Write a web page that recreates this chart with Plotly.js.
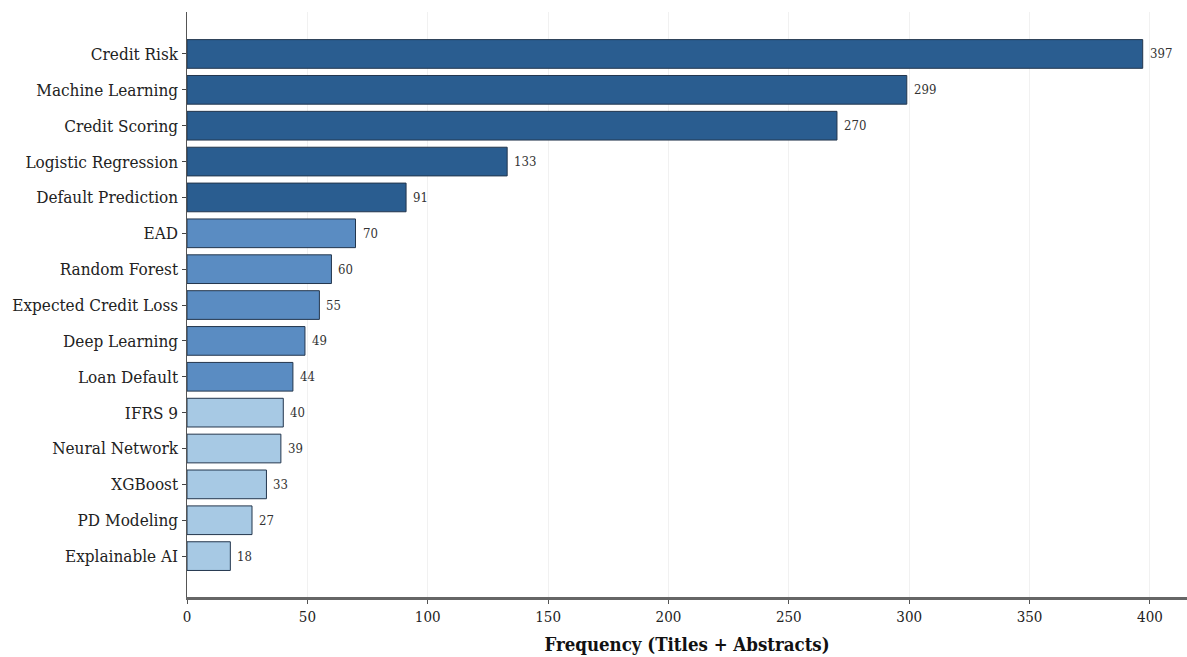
<!DOCTYPE html>
<html>
<head>
<meta charset="utf-8">
<script src="https://cdn.plot.ly/plotly-3.0.1.min.js"></script>
<style>
  html, body { margin: 0; padding: 0; background: #ffffff; }
  #chart { width: 1187px; height: 657px; }
</style>
</head>
<body>
<div id="chart"></div>
<script>
// Keyword frequencies counted across titles and abstracts
const terms = [
  "Credit Risk", "Machine Learning", "Credit Scoring", "Logistic Regression",
  "Default Prediction", "EAD", "Random Forest", "Expected Credit Loss",
  "Deep Learning", "Loan Default", "IFRS 9", "Neural Network",
  "XGBoost", "PD Modeling", "Explainable AI"
];
const counts = [397, 299, 270, 133, 91, 70, 60, 55, 49, 44, 40, 39, 33, 27, 18];

// Three shades: top five, middle five, bottom five
const tierColors = ["#2a5d90", "#5a8cc2", "#a7c9e4"];
const barColors = counts.map((_, i) => tierColors[Math.floor(i / 5)]);

const xTicks = [0, 50, 100, 150, 200, 250, 300, 350, 400];

const serif = "DejaVu Serif Condensed, DejaVu Serif, serif";

const trace = {
  type: "bar",
  orientation: "h",
  x: counts,
  y: terms,
  width: 0.8,
  marker: {
    color: barColors,
    line: { color: "#23364d", width: 1 }
  },
  hoverinfo: "x+y"
};

// Value labels placed just past the end of each bar
const valueLabels = counts.map((v, i) => ({
  x: v,
  y: terms[i],
  xref: "x",
  yref: "y",
  text: String(v),
  showarrow: false,
  xanchor: "left",
  yanchor: "middle",
  xshift: 5,
  font: { family: serif, size: 13, color: "#333333" }
}));

const layout = {
  width: 1187,
  height: 657,
  margin: { l: 187, r: 0, t: 12, b: 60 },
  paper_bgcolor: "#ffffff",
  plot_bgcolor: "#ffffff",
  showlegend: false,
  font: { family: serif, color: "#222222" },
  annotations: valueLabels,
  xaxis: {
    range: [0, 415.4],
    tickvals: xTicks,
    ticktext: xTicks.map(String),
    tickfont: { family: serif, size: 15, color: "#222222" },
    ticks: "outside",
    ticklen: 4,
    tickcolor: "#555555",
    showgrid: true,
    gridcolor: "rgba(200,200,200,0.25)",
    gridwidth: 1,
    zeroline: false,
    showline: true,
    linecolor: "#666666",
    linewidth: 2.5,
    layer: "above traces",
    title: {
      text: "<b>Frequency (Titles + Abstracts)</b>",
      font: { family: serif, size: 18.5, color: "#111111" },
      standoff: 14
    }
  },
  yaxis: {
    type: "category",
    categoryorder: "array",
    categoryarray: terms,
    range: [15.14, -1.17],
    autorange: false,
    tickfont: { family: serif, size: 17, color: "#222222" },
    ticks: "outside",
    ticklen: 4,
    tickcolor: "#444444",
    showgrid: false,
    zeroline: false,
    showline: true,
    linecolor: "#555555",
    linewidth: 1.5
  }
};

Plotly.newPlot("chart", [trace], layout, { displayModeBar: false, staticPlot: true });
</script>
</body>
</html>
